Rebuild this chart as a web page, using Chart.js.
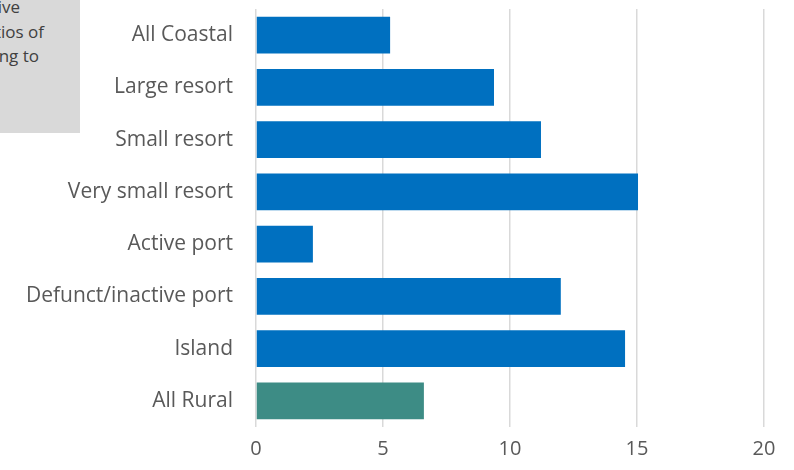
<!DOCTYPE html>
<html>
<head>
<meta charset="utf-8">
<script src="https://cdn.jsdelivr.net/npm/chart.js@4.4.1/dist/chart.umd.min.js"></script>
<style>
    html, body { margin: 0; padding: 0; background: #fff; }
    #wrap { position: relative; width: 794px; height: 470px; }
    canvas { display: block; }
    #note {
        position: absolute; left: 0; top: 0; width: 80px; height: 133px;
        background: #d9d9d9; overflow: hidden;
        font-family: 'Open Sans', sans-serif; font-size: 17px; color: #404040;
    }
    #note span { position: absolute; white-space: nowrap; }
</style>
</head>
<body>
<div id="wrap">
    <canvas id="barChart" width="794" height="470"></canvas>
    <div id="note">
        <span style="right:60px; top:-5px;">relative</span>
        <span style="right:36px; top:20px;">ratios of</span>
        <span style="right:41px; top:44px;">according to</span>
    </div>
</div>
<script>
// البيانات
const categories = ['All Coastal', 'Large resort', 'Small resort', 'Very small resort',
    'Active port', 'Defunct/inactive port', 'Island', 'All Rural'];
const values = [5.28, 9.37, 11.22, 15.04, 2.24, 12.0, 14.53, 6.61];
const barColors = ['#0070c0', '#0070c0', '#0070c0', '#0070c0',
    '#0070c0', '#0070c0', '#0070c0', '#3d8c85'];
const xTicks = [0, 5, 10, 15, 20];

const ctx = document.getElementById('barChart');
new Chart(ctx, {
    type: 'bar',
    data: {
        labels: categories,
        datasets: [{
            data: values,
            backgroundColor: barColors,
            borderWidth: 0,
            barPercentage: 0.7,
            categoryPercentage: 1.0
        }]
    },
    options: {
        indexAxis: 'y',
        responsive: false,
        animation: false,
        layout: {
            padding: { top: 9, right: 30, left: 0, bottom: 0 }
        },
        plugins: {
            legend: { display: false },
            tooltip: { enabled: false }
        },
        scales: {
            x: {
                min: xTicks[0],
                max: xTicks[xTicks.length - 1],
                afterBuildTicks: function(scale) {
                    scale.ticks = xTicks.map(v => ({ value: v }));
                },
                afterFit: function(scale) {
                    scale.height = 43;
                    scale.paddingLeft = 0;
                    scale.paddingRight = 0;
                },
                border: { display: false },
                grid: {
                    color: '#d9d9d9',
                    lineWidth: 1.5,
                    drawTicks: false
                },
                ticks: {
                    padding: 10,
                    color: '#595959',
                    font: { family: 'Open Sans', size: 20 }
                }
            },
            y: {
                afterFit: function(scale) {
                    scale.width = 256;
                    scale.paddingTop = 0;
                    scale.paddingBottom = 0;
                },
                border: { display: false },
                grid: { display: false, drawTicks: false },
                ticks: {
                    padding: 23,
                    color: '#595959',
                    font: { family: 'Open Sans', size: 21 }
                }
            }
        }
    }
});
</script>
</body>
</html>
